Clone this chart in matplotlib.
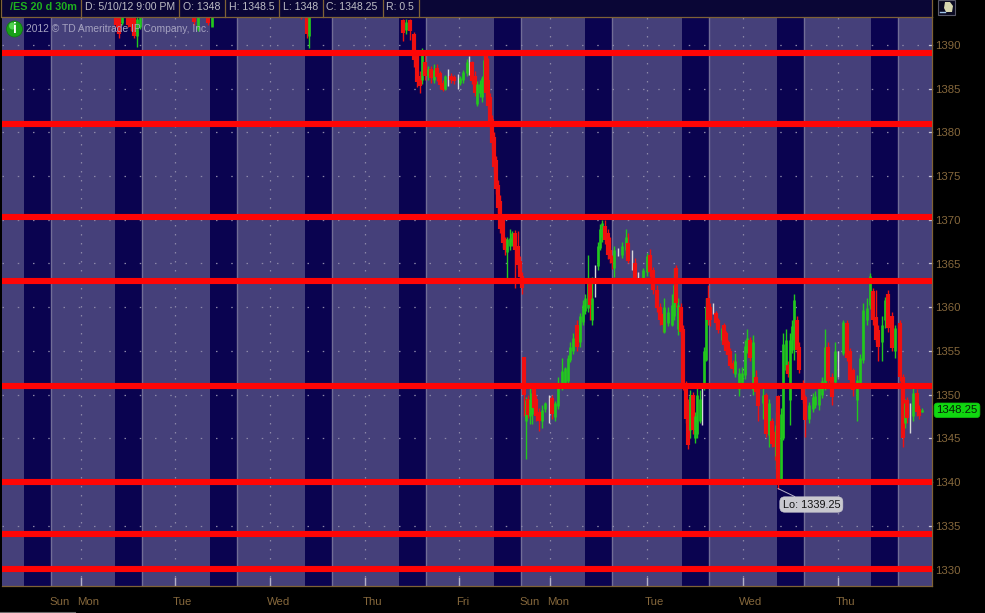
import matplotlib
matplotlib.use("Agg")
import matplotlib.pyplot as plt
from matplotlib.patches import Rectangle, Circle, Polygon

W, H = 985, 613
BG = "#45407a"; DARK = "#0a0350"; BROWN = "#7f6236"; HEAD = "#0a0636"

price_ticks = [1390, 1385, 1380, 1375, 1370, 1365, 1360, 1355, 1350, 1345, 1340, 1335, 1330]
level_lines = [1389.1, 1381, 1370.3, 1363, 1351, 1340, 1334, 1330]
overnight_start = [11, 56.5, 104, 151.5, 198.5, 246, 291.5, 340, 387.5, 434.5]
overnight_end = [24.5, 70, 117.5, 165, 212, 259.5, 305, 353.5, 401, 448]
day_pos = [39.5, 86.5, 134, 181.5, 228.5, 274, 322.5, 370.5, 418]
tick_pos = [24.5, 39.5, 86.5, 134, 181.5, 228.5, 259.5, 274, 322.5, 370.5, 418]
tick_labels = ["Sun", "Mon", "Tue", "Wed", "Thu", "Fri", "Sun", "Mon", "Tue", "Wed", "Thu"]
label_shift_px = [9, 7, 7, 9, 7, 4, 9, 8, 7, 8, 7]
last_close = 1348.25
period_low = 1339.25

bar_pos = [57, 58.5, 60, 63, 64.5, 66, 67.5, 69, 96, 98, 103, 105, 149.5, 152.5, 153.5,
 200.5, 202, 204, 206, 207.5, 209, 210, 211.5, 213, 214.5, 216, 217.5, 219, 220.5, 221.5, 223, 224.5, 226, 228, 229,
 230.5, 232.5, 233.5, 235, 236.5, 237.5, 239, 240, 241, 242, 243, 244, 245, 246, 247, 248, 249, 250.5, 251.5, 252.5,
 254, 255, 256.5, 258, 259, 260, 261, 262, 263, 264, 265, 266, 267, 268.5, 270, 271.5, 273.5, 275, 276.5, 278, 280,
 281.5, 283, 284, 285.5, 287.5, 289, 290.5, 291.5, 293, 294, 295, 296.5, 298, 299, 300, 301.5, 303, 304, 305, 306,
 308, 310, 312, 313, 315, 316.5, 318, 320.5, 322.5, 324, 325.5, 327.5, 329, 330.5, 331, 333, 335, 336, 337, 338,
 339.5, 340.5, 342, 343, 344, 345.5, 346.5, 347.5, 349, 350, 351, 352, 353, 354, 355.5, 357, 358, 360, 361, 362,
 363, 364, 365.5, 366.5, 368.5, 370, 371.5, 372.5, 374, 375.5, 377, 378, 380.5, 382, 383.5, 385, 386.5, 387, 388,
 389.5, 390.5, 392, 393, 394, 395, 396, 397.5, 398.5, 400.5, 401.5, 403.5, 405.5, 406.5, 408.5, 410, 411.5, 413,
 415, 416.5, 418, 420.5, 422.5, 424, 425.5, 427.5, 429, 430.5, 432.5, 434, 435.5, 437, 438, 440, 441.5, 443, 445,
 446.5, 449, 450.5, 451.5, 452.5, 454, 455.5, 457.5, 458.5, 460]
opens = [1394, 1394, 1392.5, 1394, 1393.5, 1393.5, 1391, 1392, 1394, 1391.8, 1394, 1392, 1394, 1394, 1391,
 1392.9, 1391.7, 1392.9, 1391.2, 1388.9, 1386.5, 1386, 1388, 1386.4, 1387.3, 1386, 1387.4, 1386.8, 1385.7, 1385, 1386.2, 1386.5, 1386.3, 1385.9, 1385.7,
 1386, 1386.8, 1387, 1388, 1386.5, 1383.3, 1384.5, 1384, 1386, 1388.7, 1386, 1384, 1381.5, 1379.5, 1376.8, 1374, 1372.2, 1370, 1367.8, 1366.3,
 1367, 1367.5, 1368.5, 1367, 1365.3, 1363.6, 1354.3, 1347, 1349.5, 1347.5, 1347.8, 1350.8, 1349.5, 1348, 1347, 1348.3, 1348.5, 1349.6, 1347.4, 1348.7, 1351,
 1351, 1351.6, 1354, 1355, 1358, 1356, 1358.3, 1359.6, 1359.9, 1362.8, 1358.5, 1362.2, 1364.7, 1366.8, 1368, 1369.3, 1368.5, 1366.5, 1365.8, 1364.5,
 1366.2, 1366, 1366.5, 1367.3, 1365, 1365, 1363.5, 1363.1, 1364, 1366, 1364.3, 1362, 1360, 1359.2, 1357.2, 1358.2, 1358, 1359, 1364.5, 1357.5,
 1360, 1357.5, 1351.2, 1349.2, 1346, 1350, 1345, 1345.5, 1347, 1349, 1350.8, 1354, 1361, 1360, 1359.8, 1359.3, 1358.5, 1356.2, 1358, 1357,
 1356, 1355, 1353.6, 1352.3, 1350.6, 1351, 1352.2, 1355, 1356.2, 1350.5, 1352, 1351, 1349, 1350, 1345.4, 1347, 1345.7, 1343, 1349.8,
 1340.3, 1345, 1352.8, 1353.4, 1349.4, 1355.1, 1356.2, 1358.5, 1355.5, 1351.3, 1349.7, 1347.2, 1348.4, 1348.8, 1348.8, 1350, 1351, 1355.5,
 1352, 1351.4, 1353, 1354.8, 1358.2, 1355, 1352.8, 1349.4, 1351.2, 1354, 1358.5, 1360.2, 1361.8, 1358.9, 1357.4, 1356, 1358.5, 1361.5, 1359,
 1355, 1358.2, 1352, 1346.8, 1349.4, 1347, 1347.5, 1350.2, 1348.4, 1348]
highs = [1394, 1394, 1394, 1394, 1394, 1394, 1394, 1394, 1394, 1394, 1394, 1394, 1394, 1394, 1394,
 1393, 1393, 1393, 1391.5, 1389.2, 1387, 1389.6, 1389, 1387.6, 1387.6, 1387.8, 1387.8, 1387, 1386, 1386.6, 1387.3, 1386.8, 1386.6, 1386.7, 1386.4,
 1387.1, 1388.4, 1388.7, 1388.2, 1387, 1385.9, 1386, 1386.5, 1389, 1389, 1388.5, 1384.5, 1382, 1380, 1377.3, 1374.6, 1372.8, 1370.5, 1368, 1368,
 1369, 1368.7, 1368.8, 1368.7, 1365.8, 1364, 1354.3, 1349.7, 1350, 1351, 1351, 1351, 1350, 1348.5, 1348.8, 1349.2, 1350, 1350, 1349.3, 1352, 1354.2,
 1353.2, 1354.5, 1356, 1357, 1358.5, 1359.3, 1360.8, 1361.5, 1366, 1363, 1363.5, 1364.8, 1367.5, 1369.5, 1370, 1370, 1369, 1368, 1366, 1367,
 1366.8, 1367.5, 1369, 1368.5, 1366.5, 1365.6, 1364, 1364.5, 1366.2, 1366.6, 1364.6, 1362.5, 1360.5, 1359.5, 1361, 1360, 1361.5, 1364.5, 1364.8, 1361,
 1360.5, 1358, 1351.5, 1349.5, 1350.5, 1350.3, 1348, 1351, 1350.5, 1351, 1355.5, 1361, 1362.5, 1360.5, 1360.5, 1359.6, 1358.8, 1358, 1358.2, 1357.3,
 1356.3, 1355.3, 1354, 1354.8, 1353, 1353.2, 1356.2, 1357.5, 1356.6, 1356.8, 1352.8, 1351.2, 1350.7, 1350.2, 1349.5, 1347.3, 1346, 1348, 1350,
 1348.5, 1357, 1357.5, 1353.8, 1357, 1358.5, 1361.5, 1359, 1356, 1351.7, 1350, 1349.2, 1350.2, 1350.4, 1351.2, 1352, 1357.5, 1356,
 1352.5, 1356, 1355, 1358.5, 1358.5, 1355.3, 1353, 1352.2, 1354.6, 1360.5, 1361, 1363.9, 1362.2, 1362, 1358, 1359, 1361.2, 1362, 1359.5,
 1358, 1358.5, 1352.3, 1349.5, 1349.7, 1349, 1350.8, 1350.6, 1348.8, 1348.5]
lows = [1392, 1390.8, 1392.3, 1392, 1391.6, 1390.8, 1389.8, 1391.8, 1392.3, 1391.6, 1392.3, 1392.3, 1393, 1390.8, 1389.6,
 1390.5, 1391.2, 1390.6, 1387.5, 1385.2, 1384.5, 1385.5, 1386, 1386, 1385.7, 1385.6, 1385.9, 1385, 1384.7, 1384.8, 1385.3, 1385.7, 1385.5, 1385, 1385.4,
 1385.6, 1386.5, 1386.6, 1385.5, 1384.2, 1383, 1384, 1383.5, 1385.8, 1384, 1382.7, 1380.6, 1378, 1375.5, 1373, 1370.8, 1368.5, 1366.8, 1366, 1363.2,
 1366.5, 1367, 1362.2, 1364.5, 1363, 1361.5, 1347.5, 1342.6, 1347.3, 1346.6, 1346.6, 1348.2, 1347, 1345.8, 1346.2, 1348, 1346.8, 1347.2, 1347, 1348.4, 1350.5,
 1350.8, 1351.2, 1353.7, 1354.6, 1355, 1355.5, 1358, 1359.2, 1359.5, 1358.5, 1358, 1361.2, 1364.3, 1366.5, 1367.5, 1367.2, 1365.5, 1365, 1364.4, 1363.5,
 1365.8, 1365.6, 1366.2, 1365, 1364.2, 1363, 1363, 1362.8, 1363.6, 1363.5, 1361.5, 1359.5, 1358, 1357.2, 1357, 1357.8, 1357.8, 1358.5, 1360, 1356.8,
 1356.8, 1350.5, 1346.8, 1343.8, 1345, 1345.5, 1344.5, 1345, 1346.8, 1346.5, 1350.5, 1353.8, 1358, 1357.8, 1359.2, 1358, 1357, 1355.8, 1355.5, 1354.7,
 1354.2, 1353, 1352.5, 1352, 1349.8, 1350.8, 1351.8, 1354.8, 1353.8, 1350, 1350, 1347, 1347.2, 1345.2, 1344, 1344, 1342.5, 1341.5, 1339.25,
 1340, 1344.8, 1352.5, 1352, 1346.5, 1354.8, 1354, 1354.8, 1352.5, 1349, 1345.2, 1346.8, 1348, 1348.5, 1348.2, 1349.6, 1350.5, 1351,
 1348.8, 1351, 1352, 1354.5, 1353.8, 1351.3, 1349.8, 1347, 1350.8, 1353.6, 1358, 1359.8, 1358, 1356, 1353.8, 1353.8, 1357.6, 1357.2, 1355,
 1354.2, 1351.6, 1344, 1346.2, 1346.8, 1345.6, 1347, 1347.6, 1347.2, 1348]
closes = [1392.3, 1391.2, 1394, 1392.3, 1392, 1391, 1393, 1394, 1392.6, 1394, 1392.5, 1394, 1393.2, 1391.2, 1394,
 1391.4, 1392.6, 1391.6, 1388.3, 1385.8, 1385.3, 1389.3, 1386.4, 1387.3, 1386.2, 1387.1, 1386.3, 1385.4, 1384.9, 1386.5, 1386.2, 1386, 1385.9, 1385.9, 1386.2,
 1386.9, 1388, 1387, 1385.9, 1384.5, 1385.5, 1385.5, 1386.2, 1388.3, 1384.5, 1383, 1381, 1378.8, 1376, 1373.5, 1371.3, 1369, 1367.3, 1366.5, 1367.8,
 1367.9, 1368.5, 1366.5, 1364.8, 1363.5, 1362.2, 1350, 1349.4, 1347.7, 1349.5, 1350.2, 1348.5, 1347.5, 1347, 1348.2, 1349, 1348.5, 1347.8, 1349, 1351.1, 1352.7,
 1353, 1354.2, 1355.4, 1356.5, 1355.5, 1359, 1360.3, 1361, 1362.8, 1360.2, 1361, 1362.2, 1367, 1369, 1369.6, 1367.7, 1366, 1365.5, 1365, 1366.5,
 1366.2, 1367, 1368, 1365.3, 1365, 1363.2, 1363.5, 1364.2, 1365.8, 1364, 1362, 1359.9, 1358.5, 1358, 1360, 1359.5, 1360.2, 1362.5, 1360.5, 1360.2,
 1357.2, 1351, 1347.2, 1344.2, 1349.8, 1346, 1347.5, 1350, 1349.5, 1349, 1355, 1360, 1358.5, 1358.5, 1359.8, 1358.2, 1357.4, 1357.6, 1355.7, 1355,
 1354.5, 1353.3, 1352.9, 1353.8, 1352.5, 1352.5, 1355.6, 1356.5, 1354.2, 1356, 1350.3, 1348.7, 1350, 1345.5, 1349, 1344.4, 1344, 1346.5, 1340.2,
 1347.8, 1355.8, 1356.2, 1352.3, 1356.2, 1357.9, 1360.8, 1355.1, 1352.8, 1349.4, 1347.1, 1348.8, 1349.7, 1349.8, 1350.9, 1351.5, 1355.5, 1351.5,
 1349.7, 1355, 1353, 1358.3, 1354.2, 1351.7, 1350.5, 1351.7, 1354.2, 1359.7, 1359.9, 1363.6, 1358.5, 1356.2, 1355.5, 1358, 1360.8, 1357.6, 1355.3,
 1357.6, 1352, 1345, 1349, 1347.3, 1347, 1350.2, 1348, 1347.6, 1348.25]

assert len({len(bar_pos), len(opens), len(highs), len(lows), len(closes)}) == 1, (len(bar_pos), len(opens), len(highs), len(lows), len(closes))

plt.rcParams["font.family"] = ["Liberation Sans", "DejaVu Sans"]
fig = plt.figure(figsize=(W / 100, H / 100), dpi=100, facecolor="black")

def px_axes(x0, y0, x1, y1):
    return fig.add_axes([x0 / W, 1 - y1 / H, (x1 - x0) / W, (y1 - y0) / H])

ax = px_axes(2, 17, 932, 586)
ax.set_facecolor(BG)
ax.set_xlim(0, 465)
ax.set_ylim(1328.1, 1393.2)

for s, e in zip(overnight_start, overnight_end):
    ax.axvspan(s, e, color=DARK, lw=0, zorder=1)
    ax.axvline(e, color="#716d96", lw=1, zorder=1.5)

for t in price_ticks:
    ax.axhline(t, color="#8b87a8", lw=0.9, ls=(0, (1.2, 11)), zorder=2)
for d in day_pos:
    ax.axvline(d, color="#8b87a8", lw=0.9, ls=(0, (1.2, 6)), zorder=2)
    ax.plot([d, d], [1328.1, 1329.0], color="#b5b1c8", lw=1, zorder=2)

for x, o, h, l, c in zip(bar_pos, opens, highs, lows, closes):
    if c < o:
        col, body = "#f01010", 3.0
    elif c > o:
        col, body = "#22c81e", 1.9
    else:
        col, body = "#d8d8d8", 1.0
    ax.plot([x, x], [l, h], color=col, lw=1.0, solid_capstyle="butt", zorder=3)
    if c != o:
        ax.plot([x, x], [min(o, c), max(o, c)], color=col, lw=body, solid_capstyle="butt", zorder=3.2)

for lv in level_lines:
    ax.axhline(lv, color="#ff0505", lw=4.4, zorder=4)

for s in ax.spines.values():
    s.set_color(BROWN)
    s.set_linewidth(0.9)
ax.spines["top"].set_visible(False)
ax.spines["left"].set_visible(False)
ax.tick_params(left=False, right=False, bottom=False, top=False, labelleft=False, labelbottom=False)
ax.set_xticks([]); ax.set_yticks([])

for t in price_ticks:
    ax.annotate(str(t), xy=(1, t), xycoords=("axes fraction", "data"), xytext=(2.0, -0.8),
                textcoords="offset points", color="#86683c", fontsize=8.2, va="center", ha="left", annotation_clip=False)
    ax.plot([463.5, 465], [t, t], color="#c5c2d5", lw=0.9, zorder=2, clip_on=False)
for p, lab, sh in zip(tick_pos, tick_labels, label_shift_px):
    ax.annotate(lab, xy=(p, 0), xycoords=("data", "axes fraction"), xytext=(sh * 0.72, -11.6),
                textcoords="offset points", color="#86683c", fontsize=8.2, va="center", ha="center", annotation_clip=False)

# price and low flags
ax.annotate(f"{last_close:g}", xy=(1, last_close), xycoords=("axes fraction", "data"), xytext=(18, -0.3),
            textcoords="offset points", ha="center", va="center", fontsize=8.2, color="#062006", annotation_clip=False,
            bbox=dict(boxstyle="round,pad=0.2,rounding_size=0.3", fc="#10d810", ec="#10c010", lw=0.5), zorder=8)
low_x = bar_pos[lows.index(period_low)]
ax.annotate(f"Lo: {period_low:g}", xy=(low_x, period_low), xytext=(24, -11.5),
            textcoords="offset points", ha="center", va="center", fontsize=7.8, color="#111111", zorder=8,
            arrowprops=dict(arrowstyle="-", color="#b9b5cc", lw=0.7, shrinkA=0, shrinkB=0),
            bbox=dict(boxstyle="round,pad=0.25,rounding_size=0.45", fc="#c9c9cf", ec="#c9c9cf", lw=0.4))

# full-figure pixel overlay for the header, logo and icon
ov = fig.add_axes([0, 0, 1, 1], facecolor="none")
ov.set_xlim(0, W); ov.set_ylim(H, 0); ov.axis("off")
ov.add_patch(Rectangle((2, 0), 930, 17, fc=HEAD, ec="none"))
ov.plot([2, 932], [17, 17], color=BROWN, lw=0.9)
ov.plot([932, 932], [0, 17], color=BROWN, lw=0.9)
for sx in [1, 81, 179, 225, 279, 323, 383, 419]:
    ov.plot([sx, sx], [0, 17], color=BROWN, lw=0.9)
ov.text(10, 7.5, "/ES 20 d 30m", color="#1fb01f", fontsize=7.8, fontweight="bold", va="center")
for x_, s_ in [(85, "D: 5/10/12 9:00 PM"), (183, "O: 1348"), (229, "H: 1348.5"), (283, "L: 1348"),
               (326, "C: 1348.25"), (386, "R: 0.5")]:
    ov.text(x_, 7.5, s_, color="#bdbdc5", fontsize=7.6, va="center")
ov.text(26, 29, "2012 © TD Ameritrade IP Company, Inc.", color="#a5a2c0", fontsize=7.4, va="center", zorder=6)
ov.add_patch(Circle((14.5, 29), 8, fc="#18a018", ec="#0d7a0d", lw=0.5, zorder=6))
ov.add_patch(Circle((12.5, 26), 3.5, fc="#52d452", ec="none", zorder=6.1))
ov.text(14.5, 29, "i", color="white", fontsize=10, fontweight="bold", ha="center", va="center", zorder=6.2)
ov.add_patch(Rectangle((938, 0), 17, 15, fc="#0a0a22", ec="#5a5a6a", lw=0.8))
ov.add_patch(Polygon([(945, 2), (950, 2), (953, 6), (952, 12), (946, 12), (944, 8)], fc="#d8d8b0", ec="none"))
ov.plot([940, 945], [12, 12], color="#9fc4e8", lw=1)
ov.plot([0, 75], [612, 612], color="#6a6a6a", lw=0.8)

fig.savefig("out.png", dpi=100, facecolor="black")
